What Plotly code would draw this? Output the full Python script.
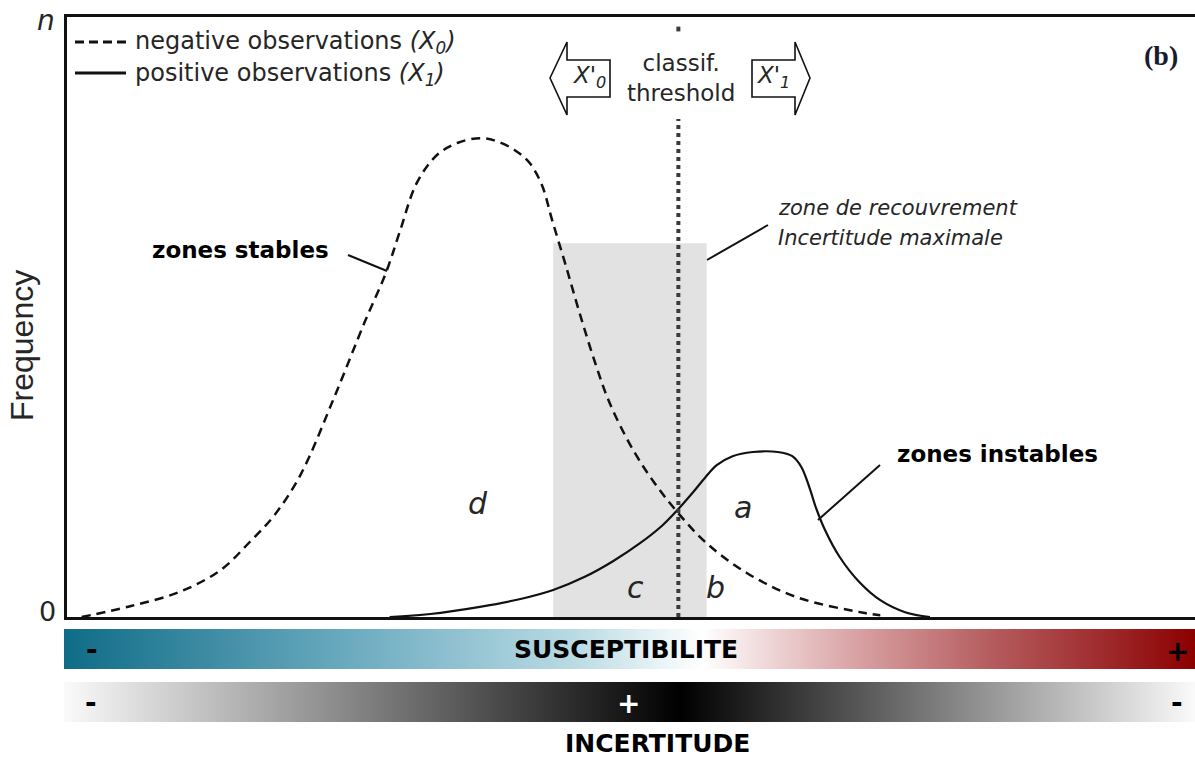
import plotly.graph_objects as go

# ---------------- data (x: susceptibility scale 0-100, y: frequency 0-100, 100 = n) -------------
neg_x = [1.3, 5.6, 10.0, 13.6, 16.2, 18.4, 20.7, 23.6, 26.4, 28.3, 29.5, 31.0, 32.8, 34.6, 36.6,
         38.1, 39.7, 41.0, 42.1, 43.0, 44.2, 45.5, 46.8, 48.1, 50.2, 52.1, 54.1, 56.7, 60.3,
         64.7, 70.6, 72.1]
neg_y = [0.0, 1.8, 4.2, 7.8, 12.5, 17.0, 23.7, 36.2, 49.2, 57.5, 64.2, 72.3, 77.0, 79.0, 79.8,
         79.3, 77.8, 75.7, 72.0, 66.2, 58.7, 50.3, 42.5, 35.7, 27.8, 22.3, 17.5, 12.3, 7.3,
         3.3, 0.7, 0.3]
pos_x = [28.6, 32.2, 36.6, 40.2, 43.1, 45.9, 48.4, 50.8, 52.8, 54.1, 55.5, 56.6, 57.6, 59.0,
         60.8, 63.0, 64.3, 65.1, 65.8, 66.4, 67.2, 68.5, 70.3, 72.1, 74.3, 76.5]
pos_y = [0.0, 0.5, 1.7, 3.0, 4.5, 6.7, 9.3, 12.3, 15.3, 17.8, 20.8, 23.3, 25.3, 26.8,
         27.5, 27.5, 26.8, 25.0, 21.7, 18.2, 14.5, 10.0, 5.7, 2.8, 0.8, 0.0]
threshold = 54.2
overlap_range = [43.1, 56.7]
overlap_top = 62.3
region_labels = ["d", "a", "c", "b"]
region_x = [36.4, 59.9, 50.4, 57.5]
region_y = [19.0, 18.2, 5.0, 5.0]

susc_colors = [[0.0, "#0f6c87"], [0.25, "#6aaabf"], [0.45, "#b9dae3"], [0.52, "#e4f1f4"],
               [0.565, "#ffffff"], [0.62, "#f0d8d9"], [0.70, "#d9a2a4"], [0.82, "#b55c5e"],
               [0.92, "#9e2a2c"], [1.0, "#8c0000"]]
unc_colors = [[0.0, "#fafafa"], [0.545, "#000000"], [1.0, "#fafafa"]]

W, H = 1195, 758
L, T, B = 67, 17, 617  # plot area pixels

SANS = "DejaVu Sans"
TXT = "#262626"

fig = go.Figure()

# gradient bars (pixel overlay axes)
fig.add_trace(go.Scatter(x=[64, W, W, 64, 64], y=[629, 629, 669, 669, 629], xaxis="x2", yaxis="y2",
                         mode="lines", line=dict(width=0), fill="toself",
                         fillgradient=dict(type="horizontal", colorscale=susc_colors),
                         hoverinfo="skip", showlegend=False))
fig.add_trace(go.Scatter(x=[64, W, W, 64, 64], y=[682, 682, 722, 722, 682], xaxis="x2", yaxis="y2",
                         mode="lines", line=dict(width=0), fill="toself",
                         fillgradient=dict(type="horizontal", colorscale=unc_colors),
                         hoverinfo="skip", showlegend=False))

# curves
fig.add_trace(go.Scatter(x=neg_x, y=neg_y, mode="lines", name="negative observations (X0)",
                         line=dict(color="#111111", width=2.5, dash="9px,6px", shape="spline", smoothing=1.0),
                         showlegend=False))
fig.add_trace(go.Scatter(x=pos_x, y=pos_y, mode="lines", name="positive observations (X1)",
                         line=dict(color="#111111", width=2.2, shape="spline", smoothing=1.0),
                         showlegend=False))

shapes = []
# overlap zone
shapes.append(dict(type="rect", xref="x", yref="y", x0=overlap_range[0], x1=overlap_range[1],
                   y0=0, y1=overlap_top, fillcolor="#e2e2e2", line=dict(width=0), layer="below"))
# threshold dotted line
shapes.append(dict(type="line", xref="x", yref="y", x0=threshold, x1=threshold, y0=0, y1=83,
                   line=dict(color="#3a3a3a", width=4, dash="4px,4px")))
shapes.append(dict(type="line", xref="x", yref="y", x0=threshold, x1=threshold, y0=97.6, y1=98.4,
                   line=dict(color="#3a3a3a", width=4)))
# legend samples
shapes.append(dict(type="line", xref="x2", yref="y2", x0=75, x1=126, y0=42, y1=42,
                   line=dict(color="#111111", width=3, dash="9px,5px")))
shapes.append(dict(type="line", xref="x2", yref="y2", x0=75, x1=126, y0=73, y1=73,
                   line=dict(color="#111111", width=3)))
# leader lines
for (x0, y0, x1, y1) in [(348, 255, 387, 271), (707, 260, 768, 225), (880, 465, 818, 520)]:
    shapes.append(dict(type="line", xref="x2", yref="y2", x0=x0, y0=y0, x1=x1, y1=y1,
                       line=dict(color="#111111", width=2)))
# arrows
left_arrow = "M550,78 L567,42 L567,60 L610,60 L610,97 L567,97 L567,115 Z"
right_arrow = "M810,78 L795,42 L795,60 L752,60 L752,97 L795,97 L795,115 Z"
for p in [left_arrow, right_arrow]:
    shapes.append(dict(type="path", xref="x2", yref="y2", path=p, fillcolor="white",
                       line=dict(color="#111111", width=1.6)))

ann = []


def A(text, x, y, size, color=TXT, family=SANS, xanchor="center", **kw):
    ann.append(dict(text=text, x=x, y=y, xref="x2", yref="y2", showarrow=False,
                    font=dict(family=family, size=size, color=color), xanchor=xanchor,
                    yanchor="middle", **kw))


A("<i>n</i>", 46, 20, 28)
A("0", 47, 611, 27)
A("Frequency", 22, 346, 32, family="Liberation Sans", textangle=-90)
A("negative observations <i>(X<sub>0</sub>)</i>", 133, 42, 24, xanchor="left")
A("positive observations <i>(X<sub>1</sub>)</i>", 133, 74, 24, xanchor="left")
A("classif.<br>threshold", 681, 78, 23)
A("<i>X'<sub>0</sub></i>", 589, 77, 23)
A("<i>X'<sub>1</sub></i>", 773, 77, 23)
A("<b>(b)</b>", 1161, 55, 28, color="#1a1a2e", family="Liberation Serif")
A("<i>zone de recouvrement</i>", 776, 208, 21, xanchor="left")
A("<i>Incertitude maximale</i>", 776, 238, 21, xanchor="left")
A("<b>zones stables</b>", 240, 250, 23, color="#000000")
A("<b>zones instables</b>", 997, 454, 23, color="#000000")
A("<b>SUSCEPTIBILITE</b>", 626, 649, 25, color="#000000")
A("<b>-</b>", 92, 649, 28, color="#000000")
A("<b>+</b>", 1177, 651, 28, color="#000000")
A("<b>-</b>", 91, 702, 28, color="#000000")
A("<b>+</b>", 628, 703, 28, color="#ffffff")
A("<b>-</b>", 1177, 702, 28, color="#000000")
A("<b>INCERTITUDE</b>", 657, 743, 25, color="#000000")

for lab, lx, ly in zip(region_labels, region_x, region_y):
    ann.append(dict(text=f"<i>{lab}</i>", x=lx, y=ly, xref="x", yref="y", showarrow=False,
                    font=dict(family=SANS, size=30, color=TXT)))

fig.update_layout(
    width=W, height=H, margin=dict(l=0, r=0, t=0, b=0),
    paper_bgcolor="white", plot_bgcolor="rgba(0,0,0,0)",
    xaxis=dict(domain=[L / W, 1], range=[0, 100], showgrid=False, zeroline=False, showticklabels=False,
               ticks="", showline=True, mirror=True, linecolor="#111111", linewidth=3),
    yaxis=dict(domain=[1 - B / H, 1 - T / H], range=[0, 100], showgrid=False, zeroline=False,
               showticklabels=False, ticks="", showline=True, mirror=False, linecolor="#111111",
               linewidth=3),
    xaxis2=dict(domain=[0, 1], range=[0, W], visible=False, anchor="y2"),
    yaxis2=dict(domain=[0, 1], range=[H, 0], visible=False, anchor="x2"),
    shapes=shapes, annotations=ann, showlegend=False,
)

fig.write_html("out.html", config={"displayModeBar": False},
               post_script="document.body.style.margin='0';document.body.style.overflow='hidden';")
